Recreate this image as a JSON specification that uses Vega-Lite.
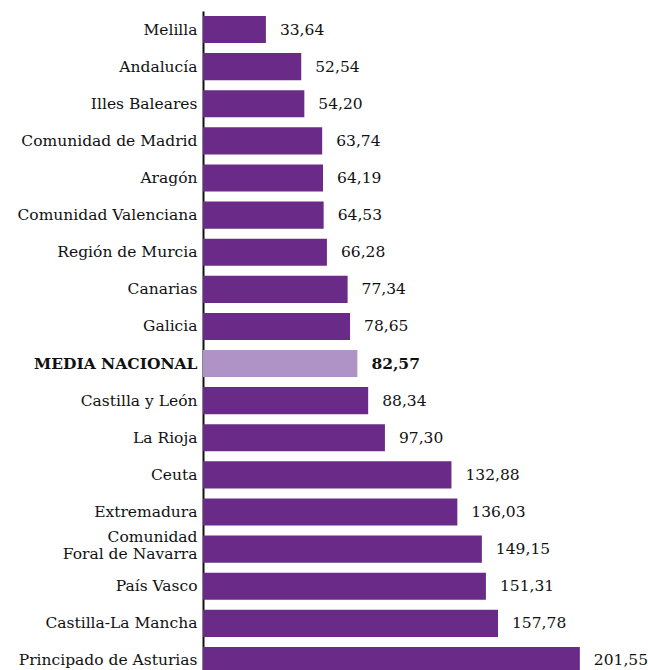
{
  "$schema": "https://vega.github.io/schema/vega-lite/v6.json",
  "width": 445,
  "height": 668,
  "autosize": "none",
  "padding": {"left": 203, "top": 11, "right": 0, "bottom": 0},
  "background": "white",
  "config": {"view": {"stroke": null}, "font": "DejaVu Serif"},
  "data": {"values": [
    {"region": "Melilla", "value": 33.64, "label": "33,64", "media": false},
    {"region": "Andalucía", "value": 52.54, "label": "52,54", "media": false},
    {"region": "Illes Baleares", "value": 54.20, "label": "54,20", "media": false},
    {"region": "Comunidad de Madrid", "value": 63.74, "label": "63,74", "media": false},
    {"region": "Aragón", "value": 64.19, "label": "64,19", "media": false},
    {"region": "Comunidad Valenciana", "value": 64.53, "label": "64,53", "media": false},
    {"region": "Región de Murcia", "value": 66.28, "label": "66,28", "media": false},
    {"region": "Canarias", "value": 77.34, "label": "77,34", "media": false},
    {"region": "Galicia", "value": 78.65, "label": "78,65", "media": false},
    {"region": "MEDIA NACIONAL", "value": 82.57, "label": "82,57", "media": true},
    {"region": "Castilla y León", "value": 88.34, "label": "88,34", "media": false},
    {"region": "La Rioja", "value": 97.30, "label": "97,30", "media": false},
    {"region": "Ceuta", "value": 132.88, "label": "132,88", "media": false},
    {"region": "Extremadura", "value": 136.03, "label": "136,03", "media": false},
    {"region": "Comunidad Foral de Navarra", "value": 149.15, "label": "149,15", "media": false},
    {"region": "País Vasco", "value": 151.31, "label": "151,31", "media": false},
    {"region": "Castilla-La Mancha", "value": 157.78, "label": "157,78", "media": false},
    {"region": "Principado de Asturias", "value": 201.55, "label": "201,55", "media": false}
  ]},
  "encoding": {
    "y": {
      "field": "region", "type": "nominal", "sort": null,
      "scale": {"paddingInner": 0.27, "paddingOuter": 0.135},
      "axis": {
        "title": null, "ticks": false, "domainColor": "#111", "domainWidth": 2,
        "labelFont": "DejaVu Serif", "labelFontSize": 15.5, "labelColor": "#111",
        "labelPadding": 6, "labelLimit": 300, "labelLineHeight": 17,
        "labelFontWeight": {"condition": {"test": "datum.value == 'MEDIA NACIONAL'", "value": "bold"}, "value": "normal"},
        "labelOffset": {"condition": {"test": "datum.value == 'Comunidad Foral de Navarra'", "value": -12}, "value": 0},
        "labelExpr": "datum.value == 'Comunidad Foral de Navarra' ? ['Comunidad', 'Foral de Navarra'] : datum.value"
      }
    },
    "x": {
      "field": "value", "type": "quantitative",
      "scale": {"domain": [0, 238], "nice": false},
      "axis": null
    }
  },
  "layer": [
    {
      "mark": {"type": "bar"},
      "encoding": {
        "color": {
          "condition": {"test": "datum.media", "value": "#b093c6"},
          "value": "#6a2a88"
        }
      }
    },
    {
      "transform": [{"filter": "!datum.media"}],
      "mark": {"type": "text", "align": "left", "dx": 14, "font": "DejaVu Serif", "fontSize": 15.5, "color": "#111"},
      "encoding": {"text": {"field": "label"}}
    },
    {
      "transform": [{"filter": "datum.media"}],
      "mark": {"type": "text", "align": "left", "dx": 14, "font": "DejaVu Serif", "fontSize": 15.5, "fontWeight": "bold", "color": "#111"},
      "encoding": {"text": {"field": "label"}}
    }
  ]
}
